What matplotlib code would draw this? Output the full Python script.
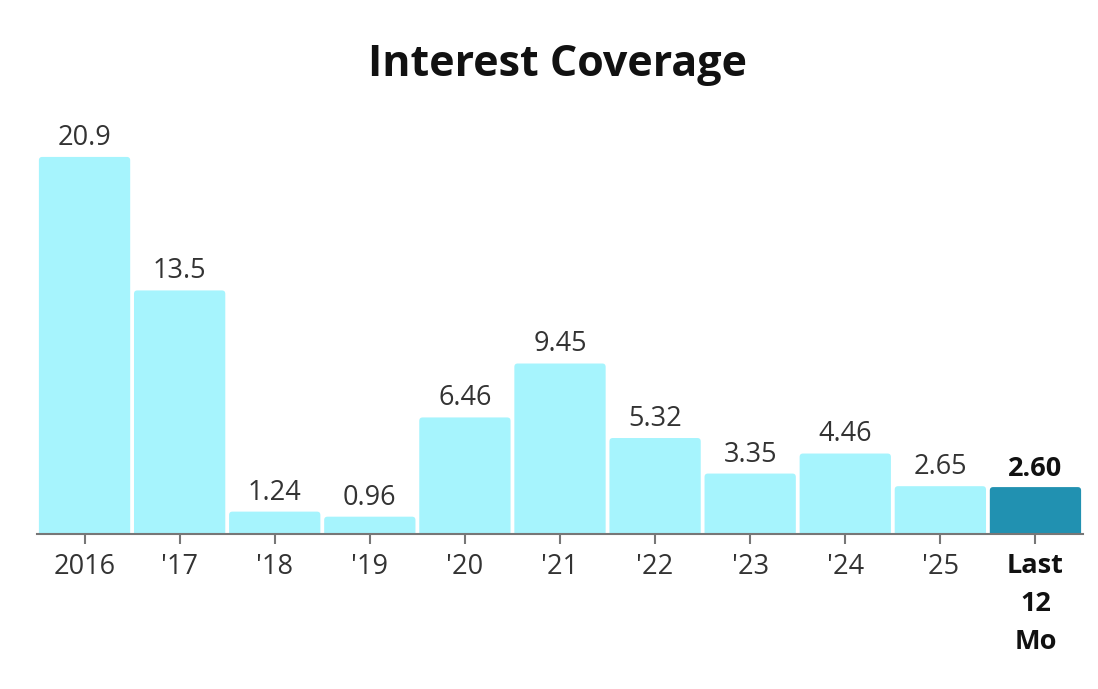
import numpy as np
import matplotlib.pyplot as plt
from matplotlib.patches import FancyBboxPatch

plt.rcParams['font.family'] = ['Open Sans', 'DejaVu Sans']

# data
labels = ['2016', "'17", "'18", "'19", "'20", "'21", "'22", "'23", "'24", "'25", 'Last\n12\nMo']
values = [20.9, 13.5, 1.24, 0.96, 6.46, 9.45, 5.32, 3.35, 4.46, 2.65, 2.60]
value_text = ['20.9', '13.5', '1.24', '0.96', '6.46', '9.45', '5.32', '3.35', '4.46', '2.65', '2.60']

light = '#A6F4FD'
dark = '#2191B1'
colors = [light] * (len(values) - 1) + [dark]

fig = plt.figure(figsize=(10.98, 6.89), dpi=100)
ax = fig.add_axes([37 / 1098, 155 / 689, 1046 / 1098, 433 / 689])

x = np.arange(len(values))
bars = ax.bar(x, values, width=0.96, color=colors)
ax.set_xlim(-0.5, len(values) - 0.5)
ax.set_ylim(0, 24)

# swap plain bars for ones with slightly rounded corners
aspect = (1046 / 11) / (433 / 24)
for b in bars:
    bx, bw, bh = b.get_x(), b.get_width(), b.get_height()
    p = FancyBboxPatch((bx, -0.5), bw, bh + 0.5,
                       boxstyle='round,pad=0,rounding_size=0.035',
                       mutation_aspect=aspect,
                       facecolor=b.get_facecolor(), edgecolor='none')
    ax.add_patch(p)
    b.set_visible(False)

for i, (v, t) in enumerate(zip(values, value_text)):
    last = i == len(values) - 1
    ax.text(i, v + 0.28, t, ha='center', va='bottom', fontsize=19.5,
            color='#111111' if last else '#333333',
            fontweight='bold' if last else 'normal')

ax.set_xticks(x)
ax.set_xticklabels(labels, fontsize=19.5, color='#333333', linespacing=1.6)
tl = ax.get_xticklabels()[-1]
tl.set_fontweight('bold')
tl.set_color('#111111')

ax.tick_params(axis='x', length=7.5, width=1.5, color='#777777', pad=6)
ax.set_yticks([])
for s in ['top', 'right', 'left']:
    ax.spines[s].set_visible(False)
ax.spines['bottom'].set_color('#777777')
ax.spines['bottom'].set_linewidth(1.5)

fig.text(557 / 1098, 1 - 64 / 689, 'Interest Coverage', ha='center', va='center',
         fontsize=31, fontweight='bold', color='#111111')

fig.savefig('out.png', dpi=100)
